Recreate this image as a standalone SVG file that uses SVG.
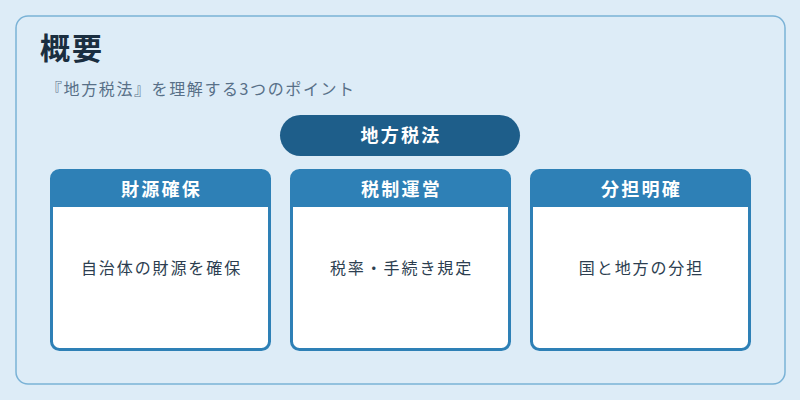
<svg xmlns="http://www.w3.org/2000/svg" width="800" height="400" viewBox="0 0 800 400">
<style>
.t{font-family:"Noto Sans CJK JP","Noto Sans",sans-serif}
.card{fill:#ffffff;stroke:#2e80b6;stroke-width:3}
.hdr{fill:#2e80b6}
.ht{font-size:18px;font-weight:bold;fill:#ffffff;text-anchor:middle;letter-spacing:2.3px}
.bt{font-size:16px;fill:#2c3e50;text-anchor:middle;letter-spacing:1.9px}
</style>
<rect x="0" y="0" width="800" height="400" fill="#ddecf7"/>
<rect x="16" y="16" width="769" height="368" rx="12" fill="#ddecf7" stroke="#7ab2d6" stroke-width="1.5"/>
<text class="t" x="40" y="59" font-size="30" font-weight="bold" fill="#1a2e40" letter-spacing="2">概要</text>
<text class="t" x="46" y="95" font-size="16" fill="#587088" letter-spacing="1.6">『地方税法』を理解する3つのポイント</text>
<g id="root">
<rect x="280" y="115" width="240" height="41" rx="20.5" fill="#1e5e8a"/>
<text class="t ht" x="401" y="142">地方税法</text>
</g>
<g id="connectors"></g>
<g id="card1">
<rect class="card" x="51.5" y="170.5" width="218" height="179" rx="8"/>
<path class="hdr" d="M51.5 207 V178.5 A8 8 0 0 1 59.5 170.5 H261.5 A8 8 0 0 1 269.5 178.5 V207 Z"/>
<text class="t ht" x="161.5" y="196">財源確保</text>
<text class="t bt" x="161.5" y="274">自治体の財源を確保</text>
</g>
<g id="card2">
<rect class="card" x="291.5" y="170.5" width="218" height="179" rx="8"/>
<path class="hdr" d="M291.5 207 V178.5 A8 8 0 0 1 299.5 170.5 H501.5 A8 8 0 0 1 509.5 178.5 V207 Z"/>
<text class="t ht" x="401.5" y="196">税制運営</text>
<text class="t bt" x="401.5" y="274">税率・手続き規定</text>
</g>
<g id="card3">
<rect class="card" x="531.5" y="170.5" width="218" height="179" rx="8"/>
<path class="hdr" d="M531.5 207 V178.5 A8 8 0 0 1 539.5 170.5 H741.5 A8 8 0 0 1 749.5 178.5 V207 Z"/>
<text class="t ht" x="641.5" y="196">分担明確</text>
<text class="t bt" x="641.5" y="274">国と地方の分担</text>
</g>
</svg>
